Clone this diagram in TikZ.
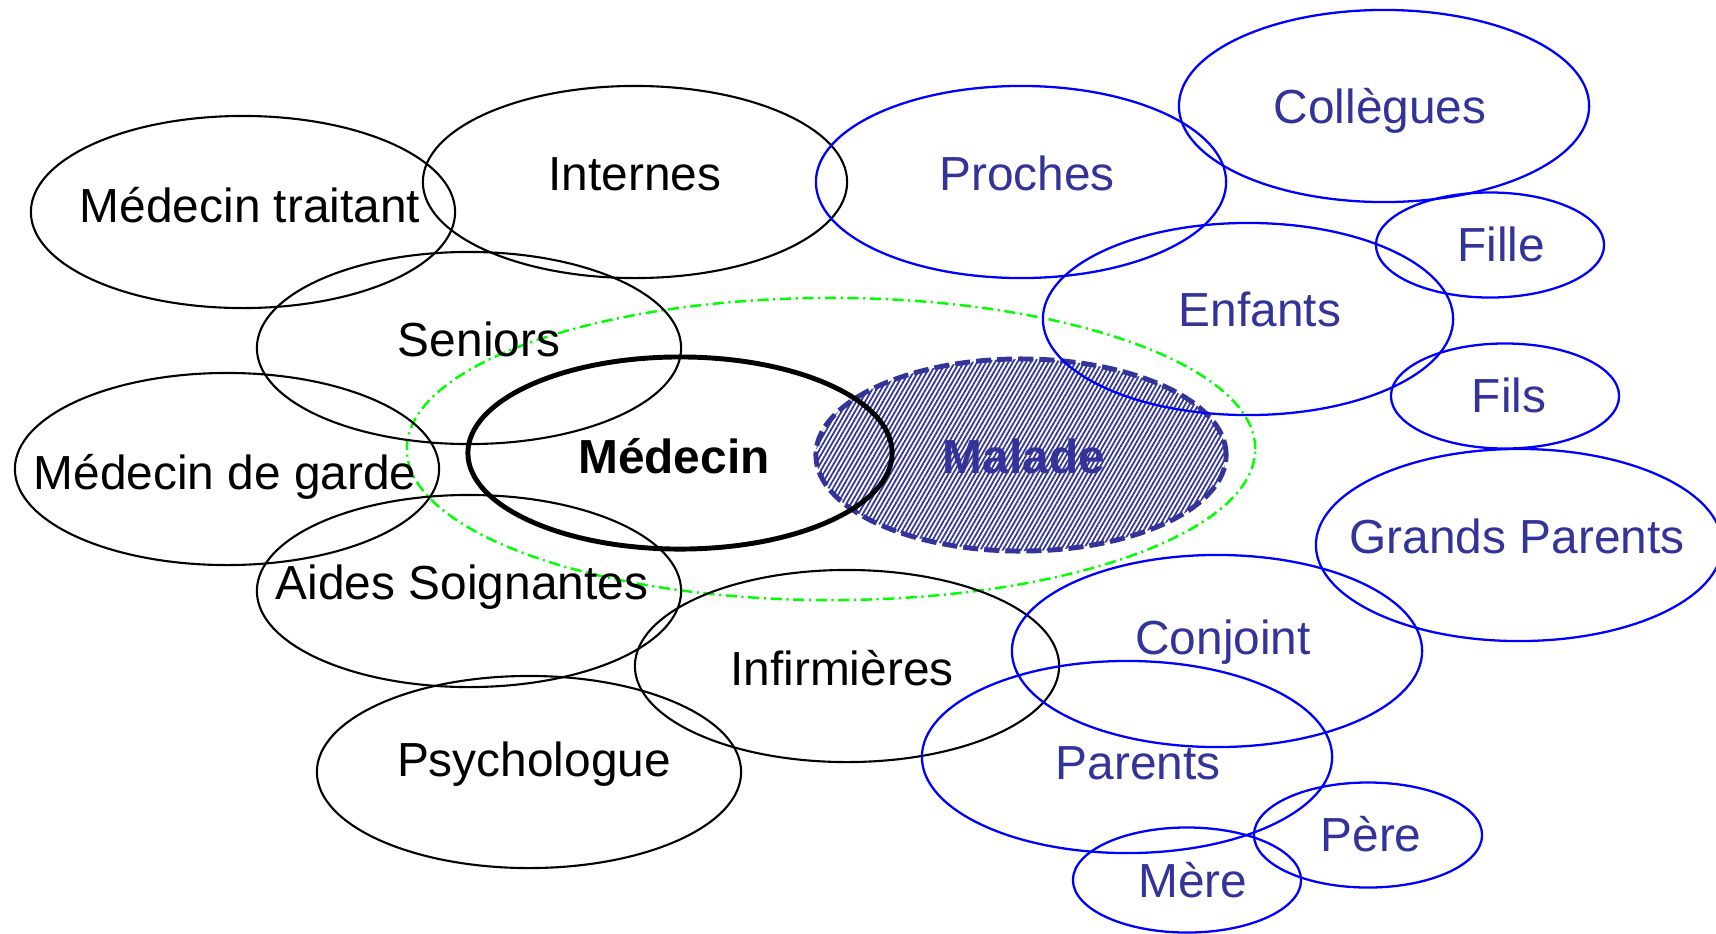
\documentclass[tikz,border=0pt]{standalone}
\usepackage{fontspec}
\setmainfont{Liberation Sans}
\usepackage{tikz}
\usetikzlibrary{shapes.geometric, patterns.meta}
\definecolor{famtext}{RGB}{51,51,153}
\definecolor{famline}{RGB}{0,0,255}
\definecolor{zone}{RGB}{0,255,0}
\tikzstyle{pro} = [ellipse, draw=black, line width=0.6pt, inner sep=0pt,
  minimum width=4.24cm, minimum height=1.92cm]
\tikzstyle{fam} = [ellipse, draw=famline, line width=0.65pt, inner sep=0pt,
  minimum width=4.1cm, minimum height=1.92cm]
\tikzstyle{famsmall} = [fam, minimum width=2.28cm, minimum height=1.05cm]
\tikzstyle{lbl} = [inner sep=0pt, text height=0.88em, text depth=0pt,
  font=\fontsize{13.6}{16}\selectfont]
\tikzstyle{famlbl} = [lbl, text=famtext]

\begin{document}
\begin{tikzpicture}[x=0.01cm, y=-0.01cm]

    \useasboundingbox (0,0) rectangle (1716,933);

    % the patient first, everything else goes over the hatching
    \node [ellipse, draw=famtext, line width=1.4pt, dash pattern=on 4.3pt off 1.7pt,
      pattern={Lines[angle=60,distance=1.1pt,line width=0.5pt]}, pattern color=famtext,
      inner sep=0pt, minimum width=4.1cm, minimum height=1.92cm] at (1021,455) (malade) {};
    \node [famlbl, font=\fontsize{13.6}{16}\selectfont\bfseries] at (1024,458) (maladetxt) {Malade};

    \node [ellipse, draw=zone, line width=0.7pt, inner sep=0pt,
      dash pattern=on 3.2pt off 1.3pt on 0.6pt off 1.3pt,
      minimum width=8.48cm, minimum height=3.02cm] at (831,449) (soins) {};

    % soignants
    \node [pro] at (243,212) (traitant) {};
    \node [lbl] at (250,207) (traitanttxt) {Médecin traitant};
    \node [pro] at (635,182) (internes) {};
    \node [lbl] at (635,175) (internestxt) {Internes};
    \node [pro] at (469,348) (seniors) {};
    \node [lbl] at (479,341) (seniorstxt) {Seniors};
    \node [pro, line width=1.4pt] at (680,453) (medecin) {};
    \node [lbl, font=\fontsize{13.6}{16}\selectfont\bfseries] at (674,458) (medecintxt) {Médecin};
    \node [pro] at (227,469) (garde) {};
    \node [lbl] at (225,474) (gardetxt) {Médecin de garde};
    \node [pro] at (469,591) (aides) {};
    \node [lbl] at (462,584) (aidestxt) {Aides Soignantes};
    \node [pro] at (847,666) (infirm) {};
    \node [lbl] at (842,670) (infirmtxt) {Infirmières};
    \node [pro] at (529,772) (psy) {};
    \node [lbl] at (534,761) (psytxt) {Psychologue};

    % entourage
    \node [fam] at (1021,182) (proches) {};
    \node [famlbl] at (1027,175) (prochestxt) {Proches};
    \node [fam] at (1384,106) (collegues) {};
    \node [famlbl] at (1380,108) (colleguestxt) {Collègues};
    \node [fam] at (1248,319) (enfants) {};
    \node [famlbl] at (1260,311) (enfantstxt) {Enfants};
    \node [famsmall] at (1490,245) (fille) {};
    \node [famlbl] at (1501,246) (filletxt) {Fille};
    \node [famsmall] at (1505,396) (fils) {};
    \node [famlbl] at (1509,397) (filstxt) {Fils};
    \node [fam, minimum width=4.06cm] at (1519,545) (grands) {};
    \node [famlbl] at (1517,538) (grandstxt) {Grands Parents};
    \node [fam] at (1217,651) (conjoint) {};
    \node [famlbl] at (1223,639) (conjointtxt) {Conjoint};
    \node [fam] at (1127,757) (parents) {};
    \node [famlbl] at (1138,764) (parentstxt) {Parents};
    \node [famsmall] at (1368,835) (pere) {};
    \node [famlbl] at (1371,836) (peretxt) {Père};
    \node [famsmall] at (1187,880) (mere) {};
    \node [famlbl] at (1193,882) (meretxt) {Mère};

\end{tikzpicture}
\end{document}
